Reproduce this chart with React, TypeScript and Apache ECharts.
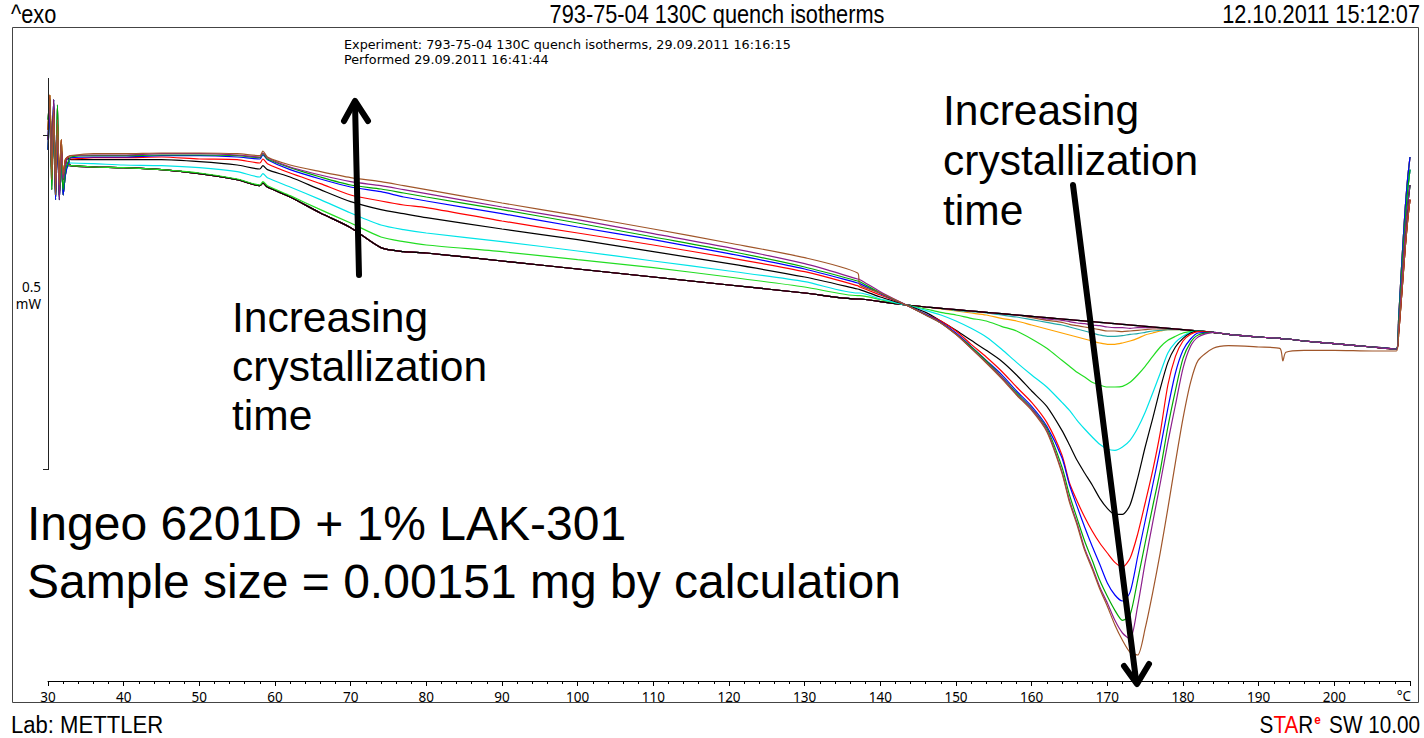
import { useEffect, useRef } from 'react';
import * as echarts from 'echarts';

// ---------- DATA (temperature in °C, heat flow in mW, exo up) ----------
const START_T = [30.0, 30.25, 30.5, 30.75, 31.0, 31.25, 31.5, 31.75, 32.0, 32.3, 32.6];
const START_A = [0.263, 0.315, 0.188, 0.293, 0.165, 0.278, 0.180, 0.248, 0.195, 0.218, 0.222];
const START_B = [0.248, 0.300, 0.203, 0.308, 0.173, 0.263, 0.158, 0.233, 0.188, 0.210, 0.221];
const START_C = [0.278, 0.308, 0.173, 0.285, 0.188, 0.300, 0.165, 0.218, 0.173, 0.203, 0.213];
const START_D = [0.233, 0.293, 0.195, 0.270, 0.158, 0.255, 0.173, 0.240, 0.165, 0.195, 0.209];

const LOW_T = [33, 36, 40, 45, 50, 55, 58, 58.4, 59, 62, 66, 70, 74, 77, 80, 90, 100, 110, 120, 130, 137, 137.3, 140, 143.4];
const LOW_BROWN1 = [0.224, 0.227, 0.227, 0.228, 0.228, 0.227, 0.224, 0.231, 0.222, 0.210, 0.200, 0.191, 0.185, 0.179, 0.173, 0.153, 0.134, 0.114, 0.093, 0.071, 0.048, 0.030, 0.018, 0];
const LOW_PURPLE1 = [0.224, 0.225, 0.225, 0.227, 0.227, 0.225, 0.222, 0.228, 0.221, 0.207, 0.195, 0.185, 0.179, 0.173, 0.167, 0.147, 0.128, 0.107, 0.086, 0.062, 0.039, 0.038, 0.020, 0];
const LOW_GREEN1 = [0.222, 0.224, 0.224, 0.225, 0.225, 0.224, 0.221, 0.227, 0.219, 0.206, 0.192, 0.180, 0.174, 0.168, 0.162, 0.143, 0.123, 0.102, 0.081, 0.057, 0.036, 0.035, 0.018, 0];
const LOW_BLUE1 = [0.221, 0.222, 0.222, 0.224, 0.224, 0.222, 0.219, 0.225, 0.218, 0.203, 0.189, 0.177, 0.170, 0.162, 0.156, 0.137, 0.117, 0.098, 0.077, 0.054, 0.033, 0.032, 0.017, 0];
const LOW_RED1 = [0.219, 0.221, 0.221, 0.222, 0.219, 0.218, 0.213, 0.219, 0.212, 0.198, 0.182, 0.165, 0.156, 0.150, 0.146, 0.126, 0.108, 0.090, 0.071, 0.050, 0.029, 0.027, 0.015, 0];
const LOW_BLACK1 = [0.218, 0.218, 0.218, 0.218, 0.215, 0.210, 0.204, 0.209, 0.203, 0.192, 0.173, 0.155, 0.143, 0.137, 0.131, 0.114, 0.098, 0.080, 0.062, 0.042, 0.024, 0.023, 0.012, 0];
const LOW_CYAN1 = [0.213, 0.212, 0.210, 0.209, 0.206, 0.200, 0.192, 0.197, 0.191, 0.177, 0.158, 0.138, 0.120, 0.113, 0.108, 0.095, 0.081, 0.066, 0.051, 0.035, 0.018, 0.018, 0.009, 0];
const LOW_LIME1 = [0.209, 0.207, 0.206, 0.203, 0.198, 0.189, 0.180, 0.185, 0.179, 0.164, 0.143, 0.123, 0.102, 0.095, 0.090, 0.080, 0.068, 0.056, 0.042, 0.027, 0.014, 0.014, 0.008, 0];
const LOW_BOTTOM = [0.209, 0.207, 0.206, 0.203, 0.197, 0.188, 0.179, 0.183, 0.177, 0.162, 0.138, 0.116, 0.086, 0.080, 0.078, 0.066, 0.054, 0.042, 0.030, 0.018, 0.009, 0.009, 0.005, 0];

const MELT_T = [146, 148, 150, 152, 154, 156, 158, 160, 162, 164, 165, 166, 167, 168, 169, 170, 171, 172, 173, 174, 175, 176, 177, 178, 179, 180, 181, 182, 184, 186, 190, 192.8, 193.2, 193.6, 196, 200, 205, 208.2];
const MELT_BASE = [-0.003, -0.005, -0.007, -0.009, -0.011, -0.013, -0.015, -0.017, -0.019, -0.021, -0.022, -0.023, -0.024, -0.025, -0.026, -0.027, -0.028, -0.029, -0.030, -0.031, -0.032, -0.033, -0.034, -0.035, -0.036, -0.037, -0.038, -0.039, -0.041, -0.044, -0.048, -0.050, -0.051, -0.051, -0.054, -0.058, -0.063, -0.066];
const MELT_BROWN1 = [-0.015, -0.027, -0.044, -0.065, -0.087, -0.110, -0.135, -0.158, -0.190, -0.252, -0.296, -0.330, -0.368, -0.396, -0.426, -0.452, -0.480, -0.503, -0.521, -0.525, -0.485, -0.431, -0.371, -0.305, -0.236, -0.170, -0.116, -0.083, -0.065, -0.061, -0.063, -0.065, -0.084, -0.071, -0.068, -0.068, -0.069, -0.069];
const MELT_PURPLE1 = [-0.015, -0.027, -0.044, -0.065, -0.086, -0.108, -0.134, -0.156, -0.188, -0.250, -0.293, -0.327, -0.365, -0.393, -0.423, -0.447, -0.473, -0.492, -0.501, -0.452, -0.386, -0.326, -0.267, -0.206, -0.150, -0.095, -0.062, -0.048, -0.041, -0.044, -0.048, -0.050, -0.051, -0.051, -0.054, -0.058, -0.063, -0.066];
const MELT_GREEN1 = [-0.015, -0.027, -0.044, -0.063, -0.084, -0.107, -0.132, -0.155, -0.185, -0.243, -0.285, -0.320, -0.354, -0.383, -0.413, -0.437, -0.458, -0.473, -0.465, -0.413, -0.357, -0.302, -0.248, -0.183, -0.128, -0.080, -0.056, -0.045, -0.041, -0.044, -0.048, -0.050, -0.051, -0.051, -0.054, -0.058, -0.063, -0.066];
const MELT_BLUE1 = [-0.014, -0.026, -0.042, -0.062, -0.083, -0.104, -0.129, -0.152, -0.182, -0.229, -0.270, -0.302, -0.333, -0.362, -0.389, -0.417, -0.435, -0.444, -0.431, -0.378, -0.324, -0.270, -0.215, -0.155, -0.102, -0.068, -0.051, -0.042, -0.041, -0.044, -0.048, -0.050, -0.051, -0.051, -0.054, -0.058, -0.063, -0.066];
const MELT_RED1 = [-0.014, -0.024, -0.039, -0.059, -0.078, -0.099, -0.123, -0.146, -0.176, -0.225, -0.267, -0.294, -0.318, -0.339, -0.357, -0.372, -0.386, -0.393, -0.380, -0.344, -0.297, -0.248, -0.191, -0.120, -0.077, -0.054, -0.044, -0.040, -0.041, -0.044, -0.048, -0.050, -0.051, -0.051, -0.054, -0.058, -0.063, -0.066];
const MELT_BLACK1 = [-0.011, -0.024, -0.038, -0.053, -0.068, -0.084, -0.105, -0.129, -0.152, -0.188, -0.210, -0.233, -0.252, -0.270, -0.290, -0.305, -0.314, -0.314, -0.300, -0.260, -0.213, -0.170, -0.125, -0.086, -0.063, -0.050, -0.042, -0.039, -0.041, -0.044, -0.048, -0.050, -0.051, -0.051, -0.054, -0.058, -0.063, -0.066];
const MELT_CYAN1 = [-0.008, -0.015, -0.024, -0.035, -0.048, -0.066, -0.086, -0.105, -0.123, -0.146, -0.158, -0.173, -0.186, -0.198, -0.209, -0.216, -0.218, -0.213, -0.203, -0.185, -0.161, -0.132, -0.102, -0.072, -0.056, -0.047, -0.041, -0.039, -0.041, -0.044, -0.048, -0.050, -0.051, -0.051, -0.054, -0.058, -0.063, -0.066];
const MELT_LIME1 = [-0.006, -0.011, -0.015, -0.020, -0.024, -0.032, -0.039, -0.051, -0.065, -0.083, -0.092, -0.101, -0.108, -0.116, -0.120, -0.123, -0.123, -0.122, -0.116, -0.105, -0.092, -0.077, -0.063, -0.053, -0.047, -0.042, -0.040, -0.039, -0.041, -0.044, -0.048, -0.050, -0.051, -0.051, -0.054, -0.058, -0.063, -0.066];
const MELT_ORANGE = [-0.003, -0.006, -0.009, -0.012, -0.015, -0.020, -0.024, -0.030, -0.036, -0.042, -0.045, -0.048, -0.051, -0.054, -0.057, -0.059, -0.059, -0.057, -0.054, -0.050, -0.045, -0.042, -0.039, -0.037, -0.037, -0.037, -0.038, -0.039, -0.041, -0.044, -0.048, -0.050, -0.051, -0.051, -0.054, -0.058, -0.063, -0.066];
const MELT_TEAL = [-0.003, -0.005, -0.008, -0.010, -0.012, -0.015, -0.018, -0.022, -0.026, -0.030, -0.033, -0.036, -0.039, -0.042, -0.045, -0.047, -0.047, -0.046, -0.044, -0.043, -0.041, -0.039, -0.038, -0.037, -0.037, -0.037, -0.038, -0.039, -0.041, -0.044, -0.048, -0.050, -0.051, -0.051, -0.054, -0.058, -0.063, -0.066];
const MELT_BROWN2 = [-0.003, -0.005, -0.007, -0.009, -0.011, -0.013, -0.015, -0.019, -0.023, -0.026, -0.029, -0.031, -0.033, -0.035, -0.037, -0.039, -0.039, -0.040, -0.039, -0.038, -0.037, -0.036, -0.036, -0.036, -0.036, -0.037, -0.038, -0.039, -0.041, -0.044, -0.048, -0.050, -0.051, -0.051, -0.054, -0.058, -0.063, -0.066];
const MELT_PURPLE2 = [-0.003, -0.005, -0.007, -0.009, -0.011, -0.013, -0.015, -0.017, -0.021, -0.023, -0.025, -0.027, -0.028, -0.030, -0.031, -0.033, -0.034, -0.034, -0.035, -0.034, -0.034, -0.034, -0.034, -0.035, -0.036, -0.037, -0.038, -0.039, -0.041, -0.044, -0.048, -0.050, -0.051, -0.051, -0.054, -0.058, -0.063, -0.066];

const END_T = [208.5, 208.8, 209.1, 209.4, 209.7, 210.0];
const END_A = [-0.020, 0.041, 0.098, 0.150, 0.191, 0.222];
const END_B = [-0.026, 0.030, 0.083, 0.131, 0.173, 0.203];
const END_C = [-0.035, 0.015, 0.065, 0.113, 0.150, 0.180];
const END_D = [-0.042, 0.000, 0.045, 0.090, 0.128, 0.158];

const X_TICKS = [30, 40, 50, 60, 70, 80, 90, 100, 110, 120, 130, 140, 150, 160, 170, 180, 190, 200];

const BROWN = '#a0562a';
const PURPLE = '#8c1f8c';
const GREEN = '#00aa00';
const BLUE = '#0000ff';
const RED = '#ff0000';
const BLACK = '#000000';
const CYAN = '#00e4e8';
const LIME = '#22dd22';
const ORANGE = '#ffa200';
const TEAL = '#22a8a8';

// drawing order: first drawn is underneath
const CURVES = [
  { name: 'orange', color: ORANGE, start: START_A, low: LOW_BOTTOM, melt: MELT_ORANGE, end: END_B },
  { name: 'teal', color: TEAL, start: START_B, low: LOW_BOTTOM, melt: MELT_TEAL, end: END_C },
  { name: 'brown 2', color: BROWN, start: START_C, low: LOW_BOTTOM, melt: MELT_BROWN2, end: END_D },
  { name: 'purple 2', color: PURPLE, start: START_D, low: LOW_BOTTOM, melt: MELT_PURPLE2, end: END_A },
  { name: 'green 2', color: GREEN, start: START_A, low: LOW_BOTTOM, melt: MELT_BASE, end: END_C },
  { name: 'blue 2', color: BLUE, start: START_B, low: LOW_BOTTOM, melt: MELT_BASE, end: END_B },
  { name: 'red 2', color: RED, start: START_C, low: LOW_BOTTOM, melt: MELT_BASE, end: END_A },
  { name: 'black 2', color: BLACK, start: START_D, low: LOW_BOTTOM, melt: MELT_BASE, end: END_D },
  { name: 'lime', color: LIME, start: START_D, low: LOW_LIME1, melt: MELT_LIME1, end: END_A },
  { name: 'cyan', color: CYAN, start: START_C, low: LOW_CYAN1, melt: MELT_CYAN1, end: END_B },
  { name: 'black', color: BLACK, start: START_B, low: LOW_BLACK1, melt: MELT_BLACK1, end: END_C },
  { name: 'red', color: RED, start: START_A, low: LOW_RED1, melt: MELT_RED1, end: END_D },
  { name: 'blue', color: BLUE, start: START_D, low: LOW_BLUE1, melt: MELT_BLUE1, end: END_A },
  { name: 'green', color: GREEN, start: START_C, low: LOW_GREEN1, melt: MELT_GREEN1, end: END_B },
  { name: 'purple', color: PURPLE, start: START_B, low: LOW_PURPLE1, melt: MELT_PURPLE1, end: END_C },
  { name: 'brown', color: BROWN, start: START_A, low: LOW_BROWN1, melt: MELT_BROWN1, end: END_D },
];

const Y_MIN = -0.564;
const Y_MAX = 0.417;

const FONT_HEAD = "'Liberation Sans', Arial, sans-serif";
const FONT_SMALL = "'Noto Sans', 'DejaVu Sans', sans-serif";
const FONT_INFO = "'DejaVu Sans', 'Noto Sans', sans-serif";

function zip(t: number[], v: number[]) {
  return t.map((x, i) => [x, v[i]]);
}

function txt(text: string, x: number, y: number, size: number, o: any = {}) {
  return {
    type: 'text',
    x,
    y,
    scaleX: o.scaleX ?? 1,
    z: 50,
    silent: true,
    style: {
      text,
      fontSize: size,
      fontFamily: o.family ?? FONT_HEAD,
      fontWeight: o.weight ?? 'normal',
      fill: o.color ?? '#000',
      align: o.align ?? 'left',
      textAlign: o.align ?? 'left',
      verticalAlign: 'middle',
      textVerticalAlign: 'middle',
      lineHeight: o.lineHeight,
      rich: o.rich,
    },
  };
}

export default function App() {
  const ref = useRef<HTMLDivElement>(null);

  useEffect(() => {
    if (!ref.current) return;
    const chart = echarts.init(ref.current, null, { renderer: 'svg' });

    const series = CURVES.map((c) => ({
      name: c.name,
      type: 'line',
      data: [
        ...zip(START_T, c.start),
        ...zip(LOW_T, c.low),
        ...zip(MELT_T, c.melt),
        ...zip(END_T, c.end),
      ],
      showSymbol: false,
      symbol: 'none',
      smooth: 0.25,
      lineStyle: { color: c.color, width: 1.2 },
      itemStyle: { color: c.color },
      silent: true,
    }));

    const HS = 0.87; // condensed header font
    const graphic: any[] = [
      // frame
      {
        type: 'rect', z: 40, silent: true,
        shape: { x: 12.5, y: 27.5, width: 1406, height: 675 },
        style: { fill: 'none', stroke: '#444', lineWidth: 1 },
      },
      // y scale bar (0.5 mW)
      { type: 'line', z: 40, silent: true, shape: { x1: 48.5, y1: 78, x2: 48.5, y2: 470 }, style: { stroke: '#222', lineWidth: 1 } },
      { type: 'line', z: 40, silent: true, shape: { x1: 43, y1: 135.5, x2: 48.5, y2: 135.5 }, style: { stroke: '#222', lineWidth: 1 } },
      { type: 'line', z: 40, silent: true, shape: { x1: 43, y1: 469.5, x2: 48.5, y2: 469.5 }, style: { stroke: '#222', lineWidth: 1 } },
      txt('0.5\nmW', 41, 295.5, 13.5, { family: FONT_SMALL, align: 'right', lineHeight: 17 }),
      txt('°C', 1404, 696, 13.5, { family: FONT_SMALL, align: 'center' }),
      // header
      txt('^exo', 11, 14.5, 25, { scaleX: HS }),
      txt('793-75-04 130C quench isotherms', 717, 14.5, 25, { scaleX: HS, align: 'center' }),
      txt('12.10.2011 15:12:07', 1420, 14.5, 25, { scaleX: HS, align: 'right' }),
      txt('Experiment: 793-75-04 130C quench isotherms, 29.09.2011 16:16:15', 344, 44.5, 12.3, { family: FONT_INFO, scaleX: 1.04 }),
      txt('Performed 29.09.2011 16:41:44', 344, 59.2, 12.3, { family: FONT_INFO, scaleX: 1.04 }),
      // footer
      txt('Lab: METTLER', 11, 725, 23, { scaleX: 0.96 }),
      txt('{k|S}{r|TA}{k|R}{e|e}{k| SW 10.00}', 1420, 725, 23, {
        scaleX: 0.9,
        align: 'right',
        rich: {
          k: { fontSize: 23, fontFamily: FONT_HEAD, fill: '#000', color: '#000' },
          r: { fontSize: 23, fontFamily: FONT_HEAD, fill: '#ff0000', color: '#ff0000' },
          e: { fontSize: 13, fontFamily: FONT_HEAD, fontWeight: 'bold', fill: '#ff0000', color: '#ff0000', padding: [0, 3, 10, 1] },
        },
      }),
      // annotations
      txt('Increasing', 232, 317, 42.5),
      txt('crystallization', 232, 366, 42.5),
      txt('time', 232, 415, 42.5),
      txt('Increasing', 943, 110, 42.5),
      txt('crystallization', 943, 160, 42.5),
      txt('time', 943, 210, 42.5),
      txt('Ingeo 6201D + 1% LAK-301', 27, 523, 48),
      txt('Sample size = 0.00151 mg by calculation', 27, 581, 48),
      // arrows
      { type: 'line', z: 60, silent: true, shape: { x1: 359, y1: 275, x2: 355, y2: 103 }, style: { stroke: '#000', lineWidth: 6, lineCap: 'round' } },
      { type: 'polyline', z: 60, silent: true, shape: { points: [[344, 121], [355, 101], [368, 121]] }, style: { stroke: '#000', fill: 'none', lineWidth: 6, lineCap: 'round', lineJoin: 'round' } },
      { type: 'line', z: 60, silent: true, shape: { x1: 1073, y1: 185, x2: 1136, y2: 680 }, style: { stroke: '#000', lineWidth: 6, lineCap: 'round' } },
      { type: 'polyline', z: 60, silent: true, shape: { points: [[1124, 666], [1137, 684], [1149, 664]] }, style: { stroke: '#000', fill: 'none', lineWidth: 6, lineCap: 'round', lineJoin: 'round' } },
    ];

    chart.setOption({
      animation: false,
      backgroundColor: '#ffffff',
      grid: { left: 48, right: 14, top: 27, bottom: 57, containLabel: false },
      xAxis: {
        type: 'value',
        min: 30,
        max: 210,
        interval: 10,
        axisLine: { show: true, onZero: false, lineStyle: { color: '#000', width: 1 } },
        axisTick: { show: true, inside: false, length: 5, lineStyle: { color: '#000', width: 1 } },
        minorTick: { show: true, splitNumber: 5, length: 3, lineStyle: { color: '#000', width: 1 } },
        splitLine: { show: false },
        axisLabel: {
          margin: 9,
          fontSize: 13.5,
          fontFamily: FONT_SMALL,
          color: '#000',
          showMinLabel: true,
          showMaxLabel: true,
          formatter: (v: number) => (X_TICKS.includes(v) ? String(v) : ''),
        },
      },
      yAxis: { type: 'value', min: Y_MIN, max: Y_MAX, show: false },
      series,
      graphic,
    });

    return () => chart.dispose();
  }, []);

  return (
    <div
      ref={ref}
      style={{ position: 'fixed', left: 0, top: 0, width: 1424, height: 738, background: '#fff' }}
    />
  );
}
